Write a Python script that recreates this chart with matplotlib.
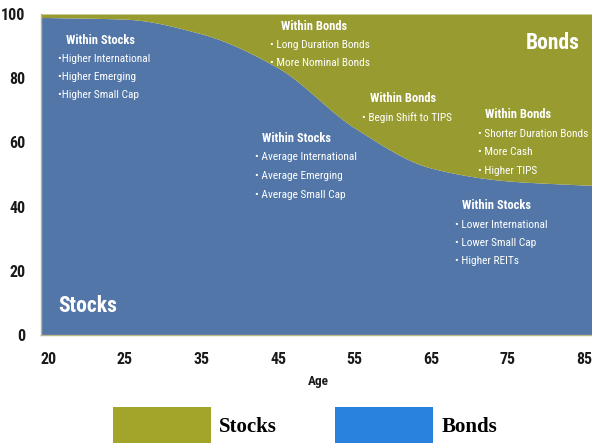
import numpy as np
import matplotlib
matplotlib.use("Agg")
import matplotlib.pyplot as plt
from matplotlib import font_manager as fm
from matplotlib.patches import Patch

# data
ages = ["20", "25", "35", "45", "55", "65", "75", "85"]
stocks_pct = [98.9, 98.4, 93.8, 83.2, 64.5, 52.0, 48.0, 46.7]
yticks = [0, 20, 40, 60, 80, 100]
legend_labels = ["Stocks", "Bonds"]

BLUE = "#5276a8"
OLIVE = "#989c30"
LEG_OLIVE = "#a3a52a"
LEG_BLUE = "#2a82df"

# the reference uses a condensed sans; pick whatever narrow face is installed
fam, stretch = "Roboto", "normal"
faces = fm.fontManager.ttflist
for want in ["Roboto Condensed", "Liberation Sans Narrow", "DejaVu Sans Condensed"]:
    if any(f.name == want for f in faces):
        fam = want
        break
else:
    narrow = [f for f in faces if f.name == "DejaVu Sans" and "ondensed" in str(f.stretch)]
    if narrow:
        fam, stretch = "DejaVu Sans", "condensed"

plt.rcParams["font.family"] = [fam, "DejaVu Sans"]
plt.rcParams["font.stretch"] = stretch


def pchip(xk, yk, x):
    """monotone cubic, only used to draw a smooth edge through the read values"""
    xk = np.asarray(xk, float)
    yk = np.asarray(yk, float)
    h = np.diff(xk)
    d = np.diff(yk) / h
    m = np.zeros_like(yk)
    for i in range(1, len(yk) - 1):
        if d[i - 1] * d[i] > 0:
            w1 = 2 * h[i] + h[i - 1]
            w2 = h[i] + 2 * h[i - 1]
            m[i] = (w1 + w2) / (w1 / d[i - 1] + w2 / d[i])
    m[0] = d[0]
    m[-1] = d[-1]
    x = np.clip(x, xk[0], xk[-1])
    idx = np.clip(np.searchsorted(xk, x) - 1, 0, len(h) - 1)
    t = (x - xk[idx]) / h[idx]
    h00 = 2 * t**3 - 3 * t**2 + 1
    h10 = t**3 - 2 * t**2 + t
    h01 = -2 * t**3 + 3 * t**2
    h11 = t**3 - t**2
    return (h00 * yk[idx] + h10 * h[idx] * m[idx]
            + h01 * yk[idx + 1] + h11 * h[idx] * m[idx + 1])


fig = plt.figure(figsize=(5.92, 4.43), dpi=100)
ax = fig.add_axes([40.7 / 592, 1 - 335 / 443, 1 - 40.7 / 592, (335 - 14) / 443])

pos = np.arange(len(ages))
xs = np.linspace(-0.1, len(ages) - 0.9, 600)
edge = pchip(pos, stocks_pct, xs)

ax.fill_between(xs, 0, edge, color=BLUE, lw=0)
ax.fill_between(xs, edge, 100, color=OLIVE, lw=0)

ax.set_xlim(xs[0], xs[-1])
ax.set_ylim(0, 100)
ax.set_xticks(pos)
ax.set_xticklabels(ages)
ax.set_yticks(yticks)
ax.set_yticklabels([str(v) for v in yticks])
ax.tick_params(length=0, labelsize=11.5)
ax.tick_params(axis="x", pad=12)
ax.tick_params(axis="y", pad=11)
for lab in ax.get_xticklabels() + ax.get_yticklabels():
    lab.set_fontweight("bold")
    lab.set_color("#1a1a1a")
for s in ["top", "right"]:
    ax.spines[s].set_visible(False)
for s in ["left", "bottom"]:
    ax.spines[s].set_color("#b8b88a")
    ax.spines[s].set_linewidth(1)

fig.text(318 / 592, 1 - 381 / 443, "Age", ha="center", va="center",
         fontsize=9.5, fontweight="bold", color="#1a1a1a")


def px(x, y):
    return x / 592, 1 - y / 443


def block(x_head, x_bul, y0, head, bullets, step=18.5):
    fig.text(*px(x_head, y0), head, ha="left", va="center", color="white",
             fontsize=9, fontweight="bold")
    for i, b in enumerate(bullets):
        fig.text(*px(x_bul, y0 + step * (i + 1)), b, ha="left", va="center",
                 color="white", fontsize=8.2)


block(66, 58, 40, "Within Stocks",
      ["\u2022Higher International", "\u2022Higher Emerging", "\u2022Higher Small Cap"])
block(281, 270, 27, "Within Bonds",
      ["\u2022 Long Duration Bonds", "\u2022 More Nominal Bonds"], step=18)
block(370, 362, 99, "Within Bonds", ["\u2022 Begin Shift to TIPS"])
block(485, 478, 115, "Within Bonds",
      ["\u2022 Shorter Duration Bonds", "\u2022 More Cash", "\u2022 Higher TIPS"])
block(262, 255, 139, "Within Stocks",
      ["\u2022 Average International", "\u2022 Average Emerging", "\u2022 Average Small Cap"])
block(462, 455, 206, "Within Stocks",
      ["\u2022 Lower International", "\u2022 Lower Small Cap", "\u2022 Higher REITs"])

fig.text(*px(580, 43), "Bonds", ha="right", va="center", color="white",
         fontsize=15.5, fontweight="bold")
fig.text(*px(58, 306), "Stocks", ha="left", va="center", color="white",
         fontsize=15.5, fontweight="bold")

handles = [Patch(facecolor=LEG_OLIVE, edgecolor="none"),
           Patch(facecolor=LEG_BLUE, edgecolor="none")]
fig.legend(handles, legend_labels, loc="upper left",
           bbox_to_anchor=(113 / 592, 1 - 407 / 443), ncol=2, frameon=False,
           prop={"family": ["Liberation Serif", "DejaVu Serif"],
                 "weight": "bold", "size": 15, "stretch": "normal"},
           handlelength=4.7, handleheight=2.3, handletextpad=0.4,
           columnspacing=2.8, borderpad=0, borderaxespad=0)

fig.savefig("out.png", dpi=100)
